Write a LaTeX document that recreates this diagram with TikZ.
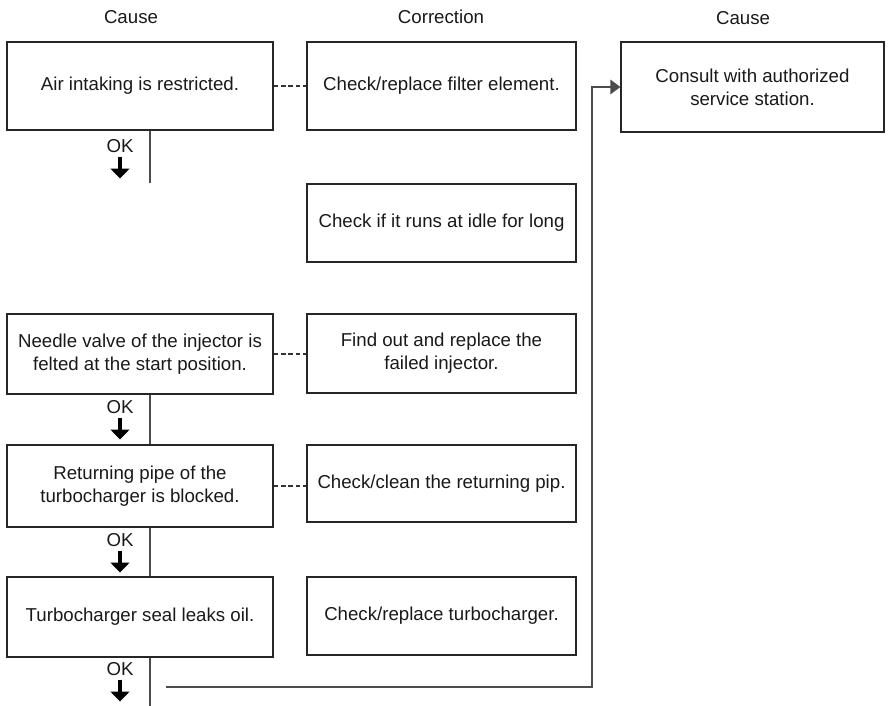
\documentclass[tikz,border=0pt]{standalone}
\usepackage{fontspec}
\setmainfont{Liberation Sans}
\usepackage{tikz}
\usetikzlibrary{arrows.meta}

\begin{document}
\begin{tikzpicture}[x=0.75pt, y=-0.75pt, line width=0.9pt,
    every node/.style={font=\fontsize{14pt}{17.25pt}\selectfont, text=black!90},
    box/.style={draw=black!85, align=center, inner sep=2pt},
    cause/.style={box, minimum width=199.5pt},
    fix/.style={box, minimum width=201.75pt},
    oklab/.style={inner sep=0pt},
    okarrow/.style={line width=3.2pt, -{Triangle[length=7.5pt, width=14pt]}},
    link/.style={black!80, dash pattern=on 3.5pt off 2pt},
    flow/.style={black!70}]
  \useasboundingbox (0,0) rectangle (890,706);
  % column heads
  \node (h1) at (131,17) {Cause};
  \node (h2) at (441,17) {Correction};
  \node (h3) at (743,18) {Cause};
  % causes, left column
  \node[cause, minimum height=66pt] (l1) at (140,86) {Air intaking is restricted.};
  \node[cause, minimum height=60pt] (l3) at (140,354)
    {Needle valve of the injector is\\felted at the start position.};
  \node[cause, minimum height=61.5pt] (l4) at (140,486)
    {Returning pipe of the\\turbocharger is blocked.};
  \node[cause, minimum height=60pt] (l5) at (140,617) {Turbocharger seal leaks oil.};
  % corrections, middle column
  \node[fix, minimum height=66pt] (m1) at (441.5,86) {Check/replace filter element.};
  \node[fix, minimum height=58.5pt] (m2) at (441.5,223) {Check if it runs at idle for long};
  \node[fix, minimum height=59.25pt] (m3) at (441.5,353.5)
    {Find out and replace the\\failed injector.};
  \node[fix, minimum height=57.75pt] (m4) at (441.5,483.5) {Check/clean the returning pip.};
  \node[fix, minimum height=58.5pt] (m5) at (441.5,616) {Check/replace turbocharger.};
  % last resort, right column
  \node[box, minimum width=197.25pt, minimum height=67.5pt] (r1) at (752.5,87)
    {Consult with authorized\\service station.};
  % cause -- correction
  \foreach \n in {1,3,4}{
    \draw[link] (l\n.east) -- (l\n.east -| m\n.west);}
  % OK marks below the causes
  \foreach \n/\y in {1/146, 3/407, 4/540, 5/669}{
    \node[oklab] (ok\n) at (120,\y) {OK};
    \draw[okarrow] ([yshift=-2.5pt]ok\n.south) -- ++(0,22);}
  % the OK line down the left column
  \coordinate (stub) at (150,183);
  \coordinate (tail) at (150,706);
  \draw[flow] ([xshift=7.5pt]l1.south) -- (stub);
  \foreach \a/\b in {l3/l4, l4/l5}{
    \draw[flow] ([xshift=7.5pt]\a.south) -- ([xshift=7.5pt]\b.north);}
  \draw[flow] ([xshift=7.5pt]l5.south) -- (tail);
  % back up to the service station
  \coordinate (back) at (166,687);
  \coordinate (turn) at (592,0);
  \draw[flow, -{Triangle[length=7.5pt, width=11pt]}] (back) -- (back -| turn) |- (r1.west);
\end{tikzpicture}
\end{document}
